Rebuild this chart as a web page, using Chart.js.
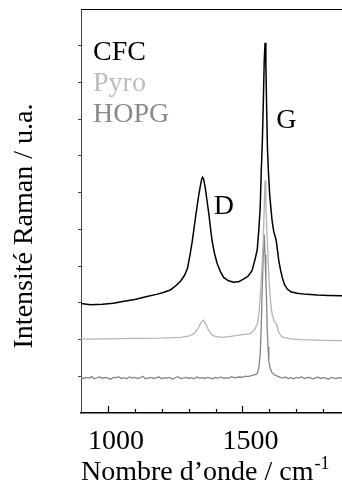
<!DOCTYPE html>
<html>
<head>
<meta charset="utf-8">
<script src="https://cdn.jsdelivr.net/npm/chart.js@4.4.1/dist/chart.umd.min.js"></script>
<style>
  body { margin: 0; background: #fff; }
  canvas { display: block; }
</style>
</head>
<body>
<canvas id="raman" width="342" height="493"></canvas>
<script>
// Raman spectra, wavenumber (cm-1) vs intensity (arbitrary, stacked)
const cfcWave = [900, 935, 980, 1020, 1060, 1100, 1145, 1180, 1206, 1232, 1250, 1269, 1285, 1296, 1306, 1313,
  1319, 1325, 1331, 1338, 1344, 1349, 1352, 1356, 1362, 1368, 1375, 1381, 1387, 1396, 1406, 1418, 1430, 1448,
  1468, 1488, 1505, 1520, 1536, 1548, 1555, 1561, 1566, 1570, 1574, 1578, 1581, 1584, 1587, 1590, 1593, 1597,
  1601, 1606, 1610, 1616, 1621, 1625, 1630, 1635, 1642, 1648, 1656, 1666, 1680, 1703, 1740, 1778, 1820, 1870];
const cfcInt = [2.98, 2.95, 2.96, 2.99, 3.04, 3.09, 3.17, 3.23, 3.28, 3.35, 3.45, 3.58, 3.75, 3.95, 4.34, 4.65,
  4.97, 5.30, 5.60, 5.95, 6.20, 6.38, 6.42, 6.36, 6.12, 5.80, 5.43, 5.05, 4.69, 4.35, 4.07, 3.85, 3.69, 3.60,
  3.56, 3.58, 3.65, 3.72, 3.88, 4.22, 4.45, 5.00, 5.60, 6.60, 7.40, 8.60, 9.60, 10.08, 9.50, 8.30, 7.20, 6.50,
  5.97, 5.55, 5.25, 4.95, 4.82, 4.72, 4.45, 4.15, 3.88, 3.69, 3.50, 3.38, 3.30, 3.26, 3.23, 3.21, 3.20, 3.19];

const pyroWave = [900, 1000, 1100, 1200, 1269, 1300, 1320, 1335, 1345, 1354, 1362, 1375, 1385, 1393, 1418, 1450,
  1493, 1515, 1530, 1545, 1555, 1562, 1567, 1572, 1577, 1581, 1584, 1587, 1591, 1594, 1599, 1604, 1610, 1617,
  1622, 1626, 1631, 1635, 1643, 1653, 1680, 1715, 1800, 1870];
const pyroInt = [2.01, 2.02, 2.03, 2.04, 2.06, 2.09, 2.16, 2.30, 2.45, 2.53, 2.45, 2.24, 2.14, 2.10, 2.06, 2.08,
  2.13, 2.15, 2.17, 2.27, 2.42, 2.75, 3.25, 3.90, 4.60, 5.60, 6.33, 5.70, 4.90, 4.40, 3.60, 3.06, 2.70, 2.51,
  2.46, 2.42, 2.30, 2.19, 2.10, 2.06, 2.02, 2.00, 1.98, 1.97];

const hopgWave = [900, 910, 920, 930, 940, 950, 960, 970, 980, 990, 1000, 1010, 1020, 1030, 1040, 1050, 1060,
  1070, 1080, 1090, 1100, 1110, 1120, 1130, 1140, 1150, 1160, 1170, 1180, 1190, 1200, 1210, 1220, 1230, 1240,
  1250, 1260, 1270, 1280, 1290, 1300, 1310, 1320, 1330, 1340, 1350, 1360, 1370, 1380, 1390, 1400, 1410, 1420,
  1430, 1440, 1450, 1460, 1470, 1480, 1490, 1500, 1510, 1520, 1530, 1540, 1550, 1556, 1561, 1566, 1570, 1573,
  1577, 1581, 1584, 1587, 1589, 1592, 1595, 1598, 1603, 1610, 1618, 1628, 1640, 1650, 1660, 1670, 1680, 1690,
  1700, 1710, 1720, 1730, 1740, 1750, 1760, 1770, 1780, 1790, 1800, 1810, 1820, 1830, 1840, 1850, 1860, 1870];
const hopgInt = [0.96, 0.94, 0.97, 0.95, 0.99, 0.93, 0.96, 0.98, 0.94, 0.97, 0.95, 0.92, 0.97, 0.96, 0.99, 0.94,
  0.96, 0.93, 0.98, 0.95, 0.97, 0.94, 0.96, 1.00, 0.93, 0.95, 0.97, 0.94, 0.96, 0.98, 0.93, 0.96, 0.95, 0.97,
  0.92, 0.96, 0.99, 0.94, 0.95, 0.97, 0.94, 0.96, 0.93, 0.98, 0.95, 0.96, 0.94, 0.97, 0.95, 0.93, 0.97, 0.95,
  0.98, 0.94, 0.96, 0.95, 0.99, 0.96, 0.97, 0.98, 0.97, 1.00, 0.99, 1.01, 1.03, 1.05, 1.10, 1.24, 1.60, 2.40,
  3.24, 4.20, 4.86, 4.30, 3.60, 3.24, 2.30, 1.80, 1.42, 1.22, 1.10, 1.04, 1.01, 0.97, 0.95, 0.98, 0.94, 0.96,
  0.93, 0.97, 0.95, 0.99, 0.94, 0.96, 0.97, 0.93, 0.95, 0.98, 0.94, 0.96, 0.95, 0.92, 0.97, 0.95, 0.94, 0.96, 0.95];

const xTickValues = [1000, 1500];
const xMinorTicks = [1000, 1100, 1200, 1300, 1400, 1500, 1600, 1700, 1800];
const yTickValues = [1, 2, 3, 4, 5, 6, 7, 8, 9, 10];

const SERIF = '"Liberation Serif", "Times New Roman", serif';

function toPoints(wave, inten) {
  return wave.map((w, i) => ({ x: w, y: inten[i] }));
}

// frame top line, inward x ticks, legend, peak labels and axis titles
const decorations = {
  id: 'decorations',
  afterDraw(chart) {
    const { ctx, chartArea: a, scales: { x, y } } = chart;
    ctx.save();

    ctx.strokeStyle = '#000';
    ctx.lineWidth = 1.2;
    ctx.beginPath();
    ctx.moveTo(a.left, a.top + 0.5);
    ctx.lineTo(chart.width, a.top + 0.5);
    ctx.stroke();

    ctx.lineWidth = 1.2;
    xMinorTicks.forEach(v => {
      const px = Math.round(x.getPixelForValue(v)) + 0.5;
      const len = v % 500 === 0 ? 7 : 4;
      ctx.beginPath();
      ctx.moveTo(px, a.bottom);
      ctx.lineTo(px, a.bottom - len);
      ctx.stroke();
    });

    ctx.font = '28px ' + SERIF;
    ctx.textAlign = 'left';
    ctx.textBaseline = 'alphabetic';
    chart.data.datasets.forEach((ds, i) => {
      ctx.fillStyle = ds.textColor;
      ctx.fillText(ds.label, a.left + 12, a.top + 51 + i * 31);
    });

    ctx.fillStyle = '#000';
    ctx.fillText('D', x.getPixelForValue(1393), y.getPixelForValue(5.43));
    ctx.fillText('G', x.getPixelForValue(1626), y.getPixelForValue(7.75));

    // x title with superscript
    const main = 'Nombre d\u2019onde / cm';
    ctx.fillText(main, a.left, 480);
    const w = ctx.measureText(main).width;
    ctx.font = '18px ' + SERIF;
    ctx.fillText('-1', a.left + w + 1, 469);

    // y title
    ctx.font = '28px ' + SERIF;
    ctx.translate(25, 226);
    ctx.rotate(-Math.PI / 2);
    ctx.textAlign = 'center';
    ctx.textBaseline = 'middle';
    ctx.fillText('Intensit\u00e9 Raman / u.a.', 0, 0);

    ctx.restore();
  }
};

new Chart(document.getElementById('raman'), {
  type: 'line',
  data: {
    datasets: [
      { label: 'CFC', data: toPoints(cfcWave, cfcInt), borderColor: '#000000', textColor: '#000000', borderWidth: 1.5 },
      { label: 'Pyro', data: toPoints(pyroWave, pyroInt), borderColor: '#b4b4b4', textColor: '#bdbdbd', borderWidth: 1.3 },
      { label: 'HOPG', data: toPoints(hopgWave, hopgInt), borderColor: '#858585', textColor: '#8a8a8a', borderWidth: 1.3 }
    ]
  },
  options: {
    responsive: false,
    animation: false,
    devicePixelRatio: 1,
    layout: { padding: { left: 78, top: 9, right: 0, bottom: 22 } },
    elements: { point: { radius: 0 }, line: { tension: 0 } },
    plugins: { legend: { display: false }, tooltip: { enabled: false } },
    scales: {
      x: {
        type: 'linear',
        min: 900,
        max: 1870,
        afterBuildTicks: s => { s.ticks = xTickValues.map(v => ({ value: v })); },
        ticks: {
          color: '#000',
          font: { family: SERIF, size: 28, lineHeight: 1 },
          padding: 15,
          labelOffset: 8,
          maxRotation: 0,
          autoSkip: false,
          callback: v => String(v)
        },
        grid: { display: false, drawTicks: false },
        border: { display: true, color: '#000', width: 1.5 }
      },
      y: {
        min: 0,
        max: 11,
        afterBuildTicks: s => { s.ticks = yTickValues.map(v => ({ value: v })); },
        ticks: { display: false },
        grid: { drawOnChartArea: false, drawTicks: true, tickLength: 3, color: '#444', lineWidth: 1 },
        border: { display: true, color: '#444', width: 1 }
      }
    }
  },
  plugins: [decorations]
});
</script>
</body>
</html>
